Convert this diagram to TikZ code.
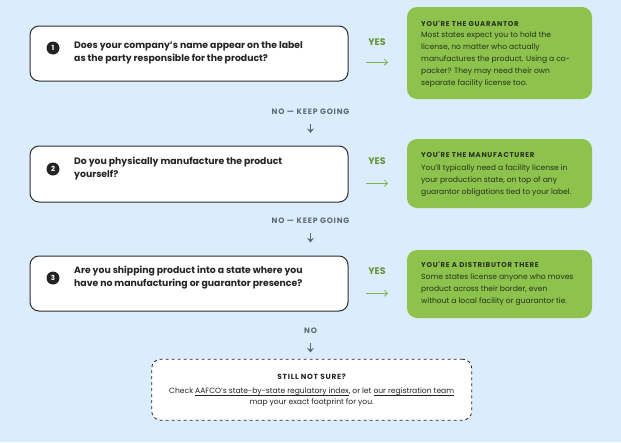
\documentclass[tikz,border=0pt]{standalone}
\usepackage{fontspec}
\setmainfont{Poppins}
\newfontfamily\capsfont[LetterSpace=10]{Poppins}
\usetikzlibrary{arrows.meta}
\definecolor{bg}{RGB}{219,237,252}
\definecolor{leaf}{RGB}{141,194,76}
\definecolor{ink}{RGB}{35,35,35}
\definecolor{leafink}{RGB}{40,50,30}
\definecolor{yesgreen}{RGB}{100,148,56}
\definecolor{arrowgreen}{RGB}{125,180,78}
\definecolor{nogray}{RGB}{95,105,118}
\definecolor{boxline}{RGB}{45,45,45}
\newsavebox{\ulinkbox}
\newcommand\ulink[1]{\sbox{\ulinkbox}{#1}\rlap{\rule[-1.7pt]{\wd\ulinkbox}{0.5pt}}\usebox{\ulinkbox}}
\tikzset{
  qbox/.style={draw=boxline, line width=1pt, fill=white, rounded corners=9pt, minimum width=318pt, inner sep=0pt},
  badge/.style={circle, fill=ink, text=white, inner sep=0pt, minimum size=13pt, font=\fontsize{7}{7}\selectfont\bfseries},
  qtext/.style={anchor=west, align=left, inner sep=0pt, text=ink, font=\fontsize{9.3}{13}\selectfont\bfseries},
  gbox/.style={fill=leaf, rounded corners=10pt, minimum width=185pt, inner sep=0pt},
  gtitle/.style={anchor=west, inner sep=0pt, text=leafink, font=\capsfont\fontsize{7}{8}\selectfont\bfseries},
  gbody/.style={anchor=west, align=left, inner sep=0pt, text=leafink, font=\fontsize{7.6}{12}\selectfont},
  yeslbl/.style={inner sep=0pt, text=yesgreen, font=\fontsize{9.5}{10}\selectfont\bfseries},
  nolbl/.style={inner sep=0pt, text=nogray, font=\capsfont\fontsize{7.8}{9}\selectfont\bfseries},
  yesarrow/.style={draw=arrowgreen, line width=0.8pt, -{Straight Barb[length=3pt,width=6pt]}},
  downarrow/.style={draw=nogray, line width=1.6pt, -{Stealth[length=4.5pt,width=7pt]}},
  endbox/.style={draw=ink, line width=0.8pt, dashed, fill=white, rounded corners=9pt, minimum width=320pt, minimum height=61pt, inner sep=0pt},
  endtitle/.style={inner sep=0pt, text=ink, font=\capsfont\fontsize{7.4}{8}\selectfont\bfseries},
  endbody/.style={inner sep=0pt, align=center, text=ink, font=\fontsize{7.6}{11}\selectfont}
}
\begin{document}
\begin{tikzpicture}[x=1pt,y=-1pt]
\fill[bg] (0,0) rectangle (621,442);
\useasboundingbox (0,0) rectangle (621,442);

% ---- question 1
\node[qbox, minimum height=55pt] (q1) at (189,53.5) {};
\node[badge] (b1) at (53,48) {1};
\node[qtext] (t1) at (74,53) {Does your company's name appear on the label\\as the party responsible for the product?};
\node[yeslbl] (y1) at (377,42.5) {YES};
\coordinate (a1s) at (366,62.3);
\coordinate (a1e) at (388,62.3);
\draw[yesarrow] (a1s) -- (a1e);
\node[gbox, minimum height=92pt] (g1) at (499.5,53) {};
\node[gtitle] (gt1) at (421,24) {YOU'RE THE GUARANTOR};
\node[gbody] (gb1) at (421,60) {Most states expect you to hold the\\license, no matter who actually\\manufactures the product. Using a co-\\packer? They may need their own\\separate facility license too.};

\node[nolbl] (n1) at (310.5,111.7) {NO — KEEP GOING};
\coordinate (d1s) at (310.5,123.5);
\coordinate (d1e) at (310.5,133);
\draw[downarrow] (d1s) -- (d1e);

% ---- question 2
\node[qbox, minimum height=56pt] (q2) at (189,174) {};
\node[badge] (b2) at (53,169) {2};
\node[qtext] (t2) at (74,168.5) {Do you physically manufacture the product\\yourself?};
\node[yeslbl] (y2) at (377,161.5) {YES};
\coordinate (a2s) at (366,183.3);
\coordinate (a2e) at (388,183.3);
\draw[yesarrow] (a2s) -- (a2e);
\node[gbox, minimum height=69pt] (g2) at (499.5,173.5) {};
\node[gtitle] (gt2) at (421,155) {YOU'RE THE MANUFACTURER};
\node[gbody] (gb2) at (421,181) {You'll typically need a facility license in\\your production state, on top of any\\guarantor obligations tied to your label.};

\node[nolbl] (n2) at (310.5,221) {NO — KEEP GOING};
\coordinate (d2s) at (310.5,233);
\coordinate (d2e) at (310.5,242.5);
\draw[downarrow] (d2s) -- (d2e);

% ---- question 3
\node[qbox, minimum height=55pt] (q3) at (189,283.5) {};
\node[badge] (b3) at (53,278) {3};
\node[qtext] (t3) at (74,277.5) {Are you shipping product into a state where you\\have no manufacturing or guarantor presence?};
\node[yeslbl] (y3) at (377,271) {YES};
\coordinate (a3s) at (366,293.3);
\coordinate (a3e) at (388,293.3);
\draw[yesarrow] (a3s) -- (a3e);
\node[gbox, minimum height=68pt] (g3) at (499.5,284) {};
\node[gtitle] (gt3) at (421,265) {YOU'RE A DISTRIBUTOR THERE};
\node[gbody] (gb3) at (421,289.5) {Some states license anyone who moves\\product across their border, even\\without a local facility or guarantor tie.};

\node[nolbl] (n3) at (310.5,330.7) {NO};
\coordinate (d3s) at (310.5,343);
\coordinate (d3e) at (310.5,352.5);
\draw[downarrow] (d3s) -- (d3e);

% ---- end box
\node[endbox] (e) at (311.7,389.7) {};
\node[endtitle] (et) at (311.7,376.7) {STILL NOT SURE?};
\node[endbody] (eb) at (311.7,397) {Check \ulink{AAFCO's state-by-state regulatory index}, or let \ulink{our registration team}\\map your exact footprint for you.};
\end{tikzpicture}
\end{document}
